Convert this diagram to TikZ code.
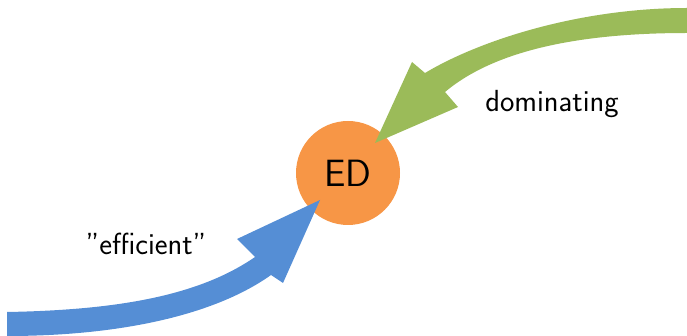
\documentclass[tikz,border=0pt]{standalone}
\usetikzlibrary{calc}
\definecolor{edorange}{HTML}{F79646}
\definecolor{effblue}{HTML}{558ED5}
\definecolor{domgreen}{HTML}{9BBB59}
\begin{document}
\begin{tikzpicture}[x=1pt,y=-1pt,
  lbl/.style={font=\sffamily\fontsize{30.5}{36}\selectfont, inner sep=0pt}]
\useasboundingbox (0,0) rectangle (687,336);
% central state
\node (ed) [circle, fill=edorange, minimum size=104pt, inner sep=0pt,
  font=\sffamily\fontsize{38}{44}\selectfont] at (348,173) {ED};
% labels
\node (eff) [lbl] at (146,244) {''efficient''};
\node (dom) [lbl] at (552,104) {dominating};
% anchor points of the curved band arrows
\coordinate (bL1) at (7,312);
\coordinate (bL2) at (7,336);
\coordinate (bN1) at (255,257);
\coordinate (bN2) at (271,275);
\coordinate (bB1) at (237,239);
\coordinate (bB2) at (283,283);
\coordinate (bT) at (320,200);
\coordinate (gR1) at (687,8);
\coordinate (gR2) at (687,33);
\coordinate (gN1) at (425,73);
\coordinate (gN2) at (445,92);
\coordinate (gB1) at (412,62);
\coordinate (gB2) at (458,107);
\coordinate (gT) at (375,143);
% "efficient" arrow into ED
\fill[effblue] (bL1) .. controls (120,310) and (200,295) .. (bN1)
  -- (bB1) -- (bT) -- (bB2) -- (bN2)
  .. controls (215,315) and (120,336) .. (bL2) -- cycle;
% "dominating" arrow into ED
\fill[domgreen] (gR1) .. controls (580,8) and (480,40) .. (gN1)
  -- (gB1) -- (gT) -- (gB2) -- (gN2)
  .. controls (495,50) and (580,33) .. (gR2) -- cycle;
\end{tikzpicture}
\end{document}
